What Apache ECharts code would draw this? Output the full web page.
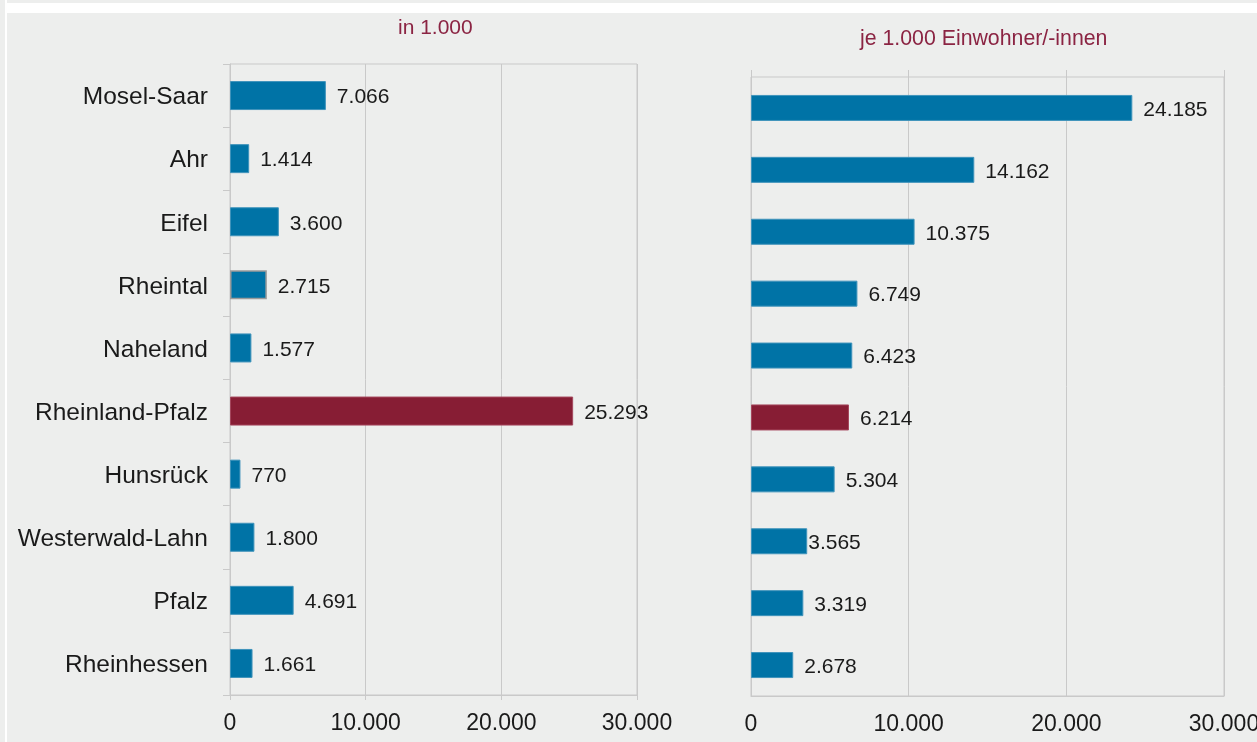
<!DOCTYPE html>
<html>
<head>
<meta charset="utf-8">
<script src="https://cdn.jsdelivr.net/npm/echarts@6/dist/echarts.min.js"></script>
<style>
  html, body { margin: 0; padding: 0; background: #ffffff; }
  #chart { width: 1257px; height: 742px; }
</style>
</head>
<body>
<div id="chart"></div>
<script>
// Regions of Rheinland-Pfalz, top to bottom
const regions = ['Mosel-Saar', 'Ahr', 'Eifel', 'Rheintal', 'Naheland', 'Rheinland-Pfalz',
  'Hunsrück', 'Westerwald-Lahn', 'Pfalz', 'Rheinhessen'];
// Absolute figures, in 1.000
const absolute = [7066, 1414, 3600, 2715, 1577, 25293, 770, 1800, 4691, 1661];
// Figures per 1.000 inhabitants
const perThousand = [24185, 14162, 10375, 6749, 6423, 6214, 5304, 3565, 3319, 2678];
// Value axis ticks
const axisTicks = [0, 10000, 20000, 30000];
// Panel headings
const headingLeft = 'in 1.000';
const headingRight = 'je 1.000 Einwohner/-innen';

const stateName = 'Rheinland-Pfalz';
const BLUE = '#0073a6';
const RED = '#871d34';
const GRID = '#c9c9c9';
const TEXT = '#1a1a1a';
const FONT = '"Liberation Sans", Arial, sans-serif';

const fmt = v => String(Math.round(v)).replace(/\B(?=(\d{3})+(?!\d))/g, '.');

function barItems(values, opts) {
  return values.map((v, i) => {
    const isState = regions[i] === stateName;
    const item = {
      value: v,
      itemStyle: {
        color: isState ? RED : BLUE,
        borderColor: isState ? '#a4465c' : '#3f93bb',
        borderWidth: 1
      }
    };
    if (opts.outlined && opts.outlined.includes(regions[i])) {
      item.itemStyle.borderColor = '#9b9b9b';
      item.itemStyle.borderWidth = 1.5;
    }
    if (opts.tight && opts.tight.includes(regions[i])) {
      item.label = { distance: 1 };
    }
    return item;
  });
}

const tickMin = axisTicks[0];
const tickMax = axisTicks[axisTicks.length - 1];
const tickStep = axisTicks[1] - axisTicks[0];

function valueAxis(gridIndex, extra) {
  return Object.assign({
    type: 'value',
    gridIndex: gridIndex,
    min: tickMin,
    max: tickMax,
    interval: tickStep,
    axisLine: { show: true, lineStyle: { color: GRID, width: 1 } },
    axisTick: { show: true, length: 5, lineStyle: { color: GRID } },
    splitLine: { show: true, lineStyle: { color: GRID, width: 1 } },
    axisLabel: {
      color: TEXT, fontFamily: FONT, fontSize: 23, margin: 17,
      formatter: v => fmt(v)
    }
  }, extra || {});
}

const labelStyle = {
  show: true,
  position: 'right',
  distance: 11,
  offset: [0, 2],
  color: TEXT,
  fontFamily: FONT,
  fontSize: 21,
  formatter: p => fmt(p.value)
};

const chart = echarts.init(document.getElementById('chart'), null, { renderer: 'canvas' });

chart.setOption({
  backgroundColor: '#ffffff',
  animation: false,
  graphic: [
    { type: 'rect', z: -10, shape: { x: 0, y: 0, width: 5, height: 742 }, style: { fill: '#edeeed' } },
    { type: 'rect', z: -10, shape: { x: 7, y: 0, width: 1250, height: 3 }, style: { fill: '#edeeed' } },
    { type: 'rect', z: -10, shape: { x: 7, y: 13, width: 1250, height: 729 }, style: { fill: '#edeeed' } },
    { type: 'text', left: 398, top: 18,
      style: { text: headingLeft, fill: '#8b2443', font: '21px ' + FONT } },
    { type: 'text', left: 860, top: 29,
      style: { text: headingRight, fill: '#8b2443', font: '21.3px ' + FONT } }
  ],
  grid: [
    { left: 230, top: 64, width: 407, height: 631, show: true, outerBoundsMode: 'none',
      containLabel: false, borderColor: GRID, borderWidth: 1, backgroundColor: 'transparent' },
    { left: 751, top: 77, width: 473, height: 619, show: true, outerBoundsMode: 'none',
      containLabel: false, borderColor: GRID, borderWidth: 1, backgroundColor: 'transparent' }
  ],
  xAxis: [
    valueAxis(0),
    valueAxis(1, { axisTick: { show: false } }),
    // short upward marks above the right panel
    valueAxis(1, {
      position: 'top',
      axisLine: { show: false },
      axisTick: { show: true, length: 7, lineStyle: { color: GRID } },
      axisLabel: { show: false },
      splitLine: { show: false }
    })
  ],
  yAxis: [
    {
      type: 'category', gridIndex: 0, data: regions, inverse: true,
      axisLine: { show: true, lineStyle: { color: GRID, width: 1 } },
      axisTick: { show: true, length: 7, lineStyle: { color: GRID } },
      axisLabel: {
        margin: 22,
        formatter: name => '{n|' + name + '}',
        rich: { n: { color: TEXT, fontFamily: FONT, fontSize: 24.5, padding: [4, 0, 0, 0] } }
      },
      splitLine: { show: false }
    },
    {
      type: 'category', gridIndex: 1, data: regions, inverse: true,
      axisLine: { show: true, lineStyle: { color: GRID, width: 1 } },
      axisTick: { show: false },
      axisLabel: { show: false },
      splitLine: { show: false }
    }
  ],
  series: [
    {
      type: 'bar', xAxisIndex: 0, yAxisIndex: 0, barWidth: 29,
      data: barItems(absolute, { outlined: ['Rheintal'] }),
      label: labelStyle
    },
    {
      type: 'bar', xAxisIndex: 1, yAxisIndex: 1, barWidth: 26,
      data: barItems(perThousand, { tight: ['Westerwald-Lahn'] }),
      label: labelStyle
    }
  ]
});
</script>
</body>
</html>
